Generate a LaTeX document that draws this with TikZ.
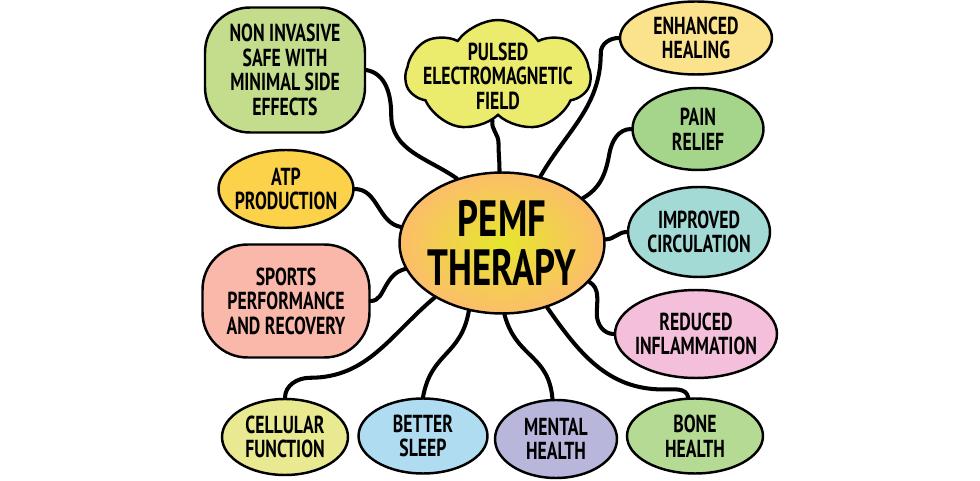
\documentclass[tikz,border=0pt]{standalone}
\usepackage{fontspec}
\setmainfont{PT Sans}[FakeStretch=0.72]
\usetikzlibrary{shapes.geometric,shapes.symbols}
\definecolor{noninvgreen}{HTML}{C3DD8C}
\definecolor{pulsedyellow}{HTML}{EBEB6E}
\definecolor{healyellow}{HTML}{FBE38D}
\definecolor{paingreen}{HTML}{A5D58A}
\definecolor{circteal}{HTML}{A3DAD5}
\definecolor{inflpink}{HTML}{F4BFDA}
\definecolor{bonegreen}{HTML}{B5DA93}
\definecolor{mentalviolet}{HTML}{B9B6DC}
\definecolor{sleepblue}{HTML}{AFDCF1}
\definecolor{cellyellow}{HTML}{E9E991}
\definecolor{sportsred}{HTML}{F9B8A9}
\definecolor{atporange}{HTML}{FDD24B}
\definecolor{pemfin}{HTML}{E6E62C}
\definecolor{pemfout}{HTML}{FCBD6A}
\begin{document}
\begin{tikzpicture}[x=0.02cm,y=0.02cm,line width=1.4pt]
            \tikzset{idea/.style n args={3}{draw, ellipse, fill=#1, minimum width=#2cm, minimum height=#3cm,
                    inner sep=-1cm, align=center, font=\fontsize{14}{14}\selectfont\bfseries}};
            \tikzset{blob/.style n args={3}{draw, rectangle, rounded corners=0.9cm, fill=#1, minimum width=#2cm,
                    minimum height=#3cm, inner sep=0pt, align=center, font=\fontsize{14}{14}\selectfont\bfseries}};
            \tikzset{link/.style={line width=2.3pt, line cap=round}};
            \useasboundingbox (0,0) rectangle (980,480);

            \node[draw, ellipse, inner color=pemfin, outer color=pemfout, minimum width=4.1cm, minimum height=2.82cm,
                inner sep=-1cm, align=center, font=\fontsize{29}{28}\selectfont\bfseries] (pemf) at (502,237) {PEMF\\THERAPY};

            \node[blob={noninvgreen}{3.2}{2.5}] (noninv) at (285,410) {NON INVASIVE\\SAFE WITH\\MINIMAL SIDE\\EFFECTS};
            \node[draw, cloud, cloud puffs=7, cloud puff arc=110, aspect=1.6, fill=pulsedyellow, minimum width=3.7cm,
                minimum height=2.24cm, inner sep=-0.5cm, align=center, font=\fontsize{14}{14}\selectfont\bfseries]
                (pulsed) at (498,404) {PULSED\\ELECTROMAGNETIC\\FIELD};
            \node[idea={atporange}{2.7}{1.56}] (atp) at (286,291) {ATP\\PRODUCTION};
            \node[blob={sportsred}{3.34}{2.26}] (sports) at (286,179) {SPORTS\\PERFORMANCE\\AND RECOVERY};

            \node[idea={healyellow}{3.04}{1.46}] (heal) at (696,442) {ENHANCED\\HEALING};
            \node[idea={paingreen}{2.62}{1.64}] (pain) at (698,351) {PAIN\\RELIEF};
            \node[idea={circteal}{2.84}{1.8}] (circ) at (699,248) {IMPROVED\\CIRCULATION};
            \node[idea={inflpink}{3.24}{1.76}] (infl) at (696,146) {REDUCED\\INFLAMMATION};

            \node[idea={cellyellow}{2.52}{1.52}] (cell) at (285,43) {CELLULAR\\FUNCTION};
            \node[idea={sleepblue}{2.58}{1.5}] (sleep) at (423,44) {BETTER\\SLEEP};
            \node[idea={mentalviolet}{2.44}{1.56}] (mental) at (556,41) {MENTAL\\HEALTH};
            \node[idea={bonegreen}{2.72}{1.5}] (bone) at (695,44) {BONE\\HEALTH};

            % wavy links
            \draw[link] (noninv.east) to[out=-10,in=90] ++(25,-45) to[out=-90,in=145] (pemf.125);
            \draw[link] (pulsed.-97) to[out=-100,in=90] ++(6,-22) to[out=-90,in=90] (pemf.92);
            \draw[link] (heal.west) to[out=180,in=90] ++(-18,-15) to[out=-90,in=60] (pemf.60);
            \draw[link] (pain.west) to[out=180,in=80] ++(-22,-25) to[out=-100,in=30] (pemf.29);
            \draw[link] (circ.west) to[out=180,in=0] (pemf.2);
            \draw[link] (infl.west) to[out=180,in=-90] ++(-17,20) to[out=90,in=-30] (pemf.-24);
            \draw[link] (bone.100) to[out=100,in=0] ++(-25,8) to[out=180,in=-55] (pemf.-55);
            \draw[link] (mental.95) to[out=95,in=-75,looseness=1.2] (pemf.-88);
            \draw[link] (sleep.north) to[out=80,in=-100,looseness=1.2] (pemf.-116);
            \draw[link] (cell.north) to[out=90,in=180] ++(25,20) to[out=0,in=-140] (pemf.-141);
            \draw[link] (sports.east) to[out=0,in=-120] ++(15,15) to[out=60,in=-165] (pemf.-165);
            \draw[link] (atp.east) to[out=0,in=170] (pemf.171);
        \end{tikzpicture}
\end{document}
